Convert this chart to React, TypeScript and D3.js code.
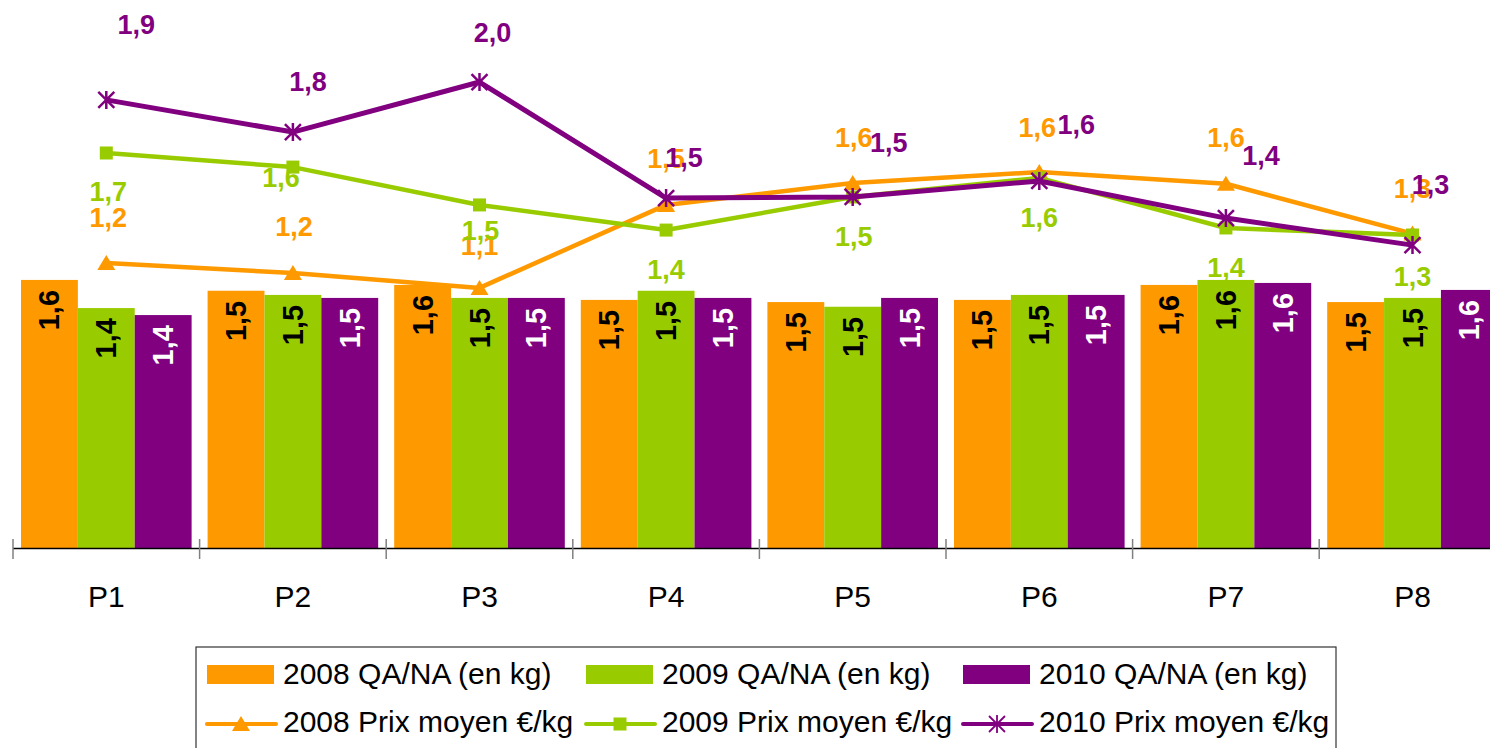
import React from 'react';
import * as d3 from 'd3';

const categories = ['P1', 'P2', 'P3', 'P4', 'P5', 'P6', 'P7', 'P8'];
const qa2008 = [1.613, 1.548, 1.583, 1.493, 1.48, 1.493, 1.583, 1.48];
const qa2009 = [1.444, 1.523, 1.505, 1.548, 1.452, 1.523, 1.613, 1.505];
const qa2010 = [1.402, 1.505, 1.505, 1.505, 1.505, 1.523, 1.595, 1.553];
const prix2008 = [1.215, 1.172, 1.109, 1.462, 1.555, 1.602, 1.552, 1.34];
const prix2009 = [1.683, 1.623, 1.462, 1.355, 1.496, 1.577, 1.364, 1.334];
const prix2010 = [1.909, 1.772, 1.985, 1.491, 1.496, 1.564, 1.406, 1.291];
const barNames = ['2008 QA/NA (en kg)', '2009 QA/NA (en kg)', '2010 QA/NA (en kg)'];
const lineNames = ['2008 Prix moyen €/kg', '2009 Prix moyen €/kg', '2010 Prix moyen €/kg'];

// layout (label offsets relative to points)
const labelOffsets = [
  [[2, -45], [1, -46], [0, -42], [0, -46], [1, -45], [-2, -44], [0, -46], [0, -45]],
  [[2, 39], [-12, 11], [1, 26], [0, 40], [1, 40], [0, 40], [0, 40], [0, 42]],
  [[30, -75], [15, -50], [13, -49], [18, -40], [36, -54], [37, -56], [35, -62], [18, -60]],
];
const colors = ['#FF9900', '#99CC00', '#800080'];
const barLabelColors = ['#000', '#000', '#fff'];
const FONT = '"Liberation Sans", Arial, sans-serif';

const W = 1490, H = 748;
const baseY = 548.5;
const left = 13, step = 186.6;

const fmt = (v: number) => v.toFixed(1).replace('.', ',');

function Marker({ kind, x, y, color, thin }: { kind: number; x: number; y: number; color: string; thin?: boolean }) {
  if (kind === 0) {
    const s = 8;
    return <path d={`M${x},${y - s} L${x + s + 1},${y + s - 1} L${x - s - 1},${y + s - 1} Z`} fill={color} />;
  }
  if (kind === 1) {
    return <rect x={x - 6.5} y={y - 6.5} width={13} height={13} fill={color} />;
  }
  const r = 8;
  return (
    <path
      d={`M${x - r},${y - r} L${x + r},${y + r} M${x - r},${y + r} L${x + r},${y - r} M${x},${y - r - 1} L${x},${y + r + 1}`}
      stroke={color}
      strokeWidth={thin ? 1.8 : 2.5}
      fill="none"
    />
  );
}

export default function App() {
  const x0 = d3.scaleBand<string>().domain(categories).range([left, left + step * categories.length]).padding(0);
  const x1 = d3.scaleBand<string>().domain(['a', 'b', 'c']).range([8, x0.bandwidth() - 8]).padding(0);
  const yBar = d3.scaleLinear().domain([0, 3]).range([baseY, baseY - 3 * 166.5]);
  const yLine = d3.scaleLinear().domain([0, 2.4]).range([baseY, baseY - 2.4 * 235]);

  const barSeries = [qa2008, qa2009, qa2010];
  const lineSeries = [prix2008, prix2009, prix2010];
  const cx = (c: string) => (x0(c) as number) + x0.bandwidth() / 2;
  const lineGen = d3
    .line<number>()
    .x((_, i) => cx(categories[i]))
    .y((d) => yLine(d));

  const legendX = [207, 586, 963];

  return (
    <svg width={W} height={H} style={{ position: 'absolute', left: 0, top: 0, background: '#fff' }} fontFamily={FONT}>
      <rect x={0} y={0} width={W} height={H} fill="#fff" />
      {/* bars */}
      {barSeries.map((s, si) =>
        s.map((v, i) => {
          const bx = (x0(categories[i]) as number) + (x1(['a', 'b', 'c'][si]) as number);
          const by = yBar(v);
          return (
            <g key={`b${si}-${i}`}>
              <rect x={bx} y={by} width={x1.bandwidth()} height={baseY - by} fill={colors[si]} />
              <text
                transform={`translate(${bx + x1.bandwidth() / 2},${by + 10}) rotate(-90)`}
                textAnchor="end"
                dominantBaseline="central"
                fontSize={29}
                fontWeight="bold"
                fill={barLabelColors[si]}
              >
                {fmt(v)}
              </text>
            </g>
          );
        })
      )}
      {/* axis */}
      <line x1={left} x2={left + step * 8} y1={baseY} y2={baseY} stroke="#000" strokeWidth={1.5} />
      {d3.range(categories.length + 1).map((i) => (
        <line key={`t${i}`} x1={left + step * i} x2={left + step * i} y1={539} y2={559} stroke="#808080" strokeWidth={1.5} />
      ))}
      {categories.map((c) => (
        <text key={c} x={cx(c)} y={607} textAnchor="middle" fontSize={30} fill="#000">
          {c}
        </text>
      ))}
      {/* lines */}
      {lineSeries.map((s, si) => (
        <g key={`l${si}`}>
          <path d={lineGen(s) as string} fill="none" stroke={colors[si]} strokeWidth={si === 2 ? 5 : 4.5} strokeLinejoin="round" />
          {s.map((v, i) => (
            <Marker key={i} kind={si} x={cx(categories[i])} y={yLine(v)} color={colors[si]} />
          ))}
        </g>
      ))}
      {/* line labels */}
      {lineSeries.map((s, si) =>
        s.map((v, i) => (
          <text
            key={`ll${si}-${i}`}
            x={cx(categories[i]) + labelOffsets[si][i][0]}
            y={yLine(v) + labelOffsets[si][i][1]}
            textAnchor="middle"
            dominantBaseline="central"
            fontSize={27}
            fontWeight="bold"
            fill={colors[si]}
          >
            {fmt(v)}
          </text>
        ))
      )}
      {/* legend */}
      <rect x={196} y={647} width={1140} height={130} fill="#fff" stroke="#333" strokeWidth={1.2} />
      {barNames.map((n, i) => (
        <g key={`lg${i}`}>
          <rect x={legendX[i]} y={665} width={67} height={19} fill={colors[i]} />
          <text x={legendX[i] + 76} y={684} fontSize={30} fill="#000">
            {n}
          </text>
        </g>
      ))}
      {lineNames.map((n, i) => (
        <g key={`lgl${i}`}>
          <line x1={legendX[i]} x2={legendX[i] + 69} y1={724} y2={724} stroke={colors[i]} strokeWidth={4} strokeLinecap="round" />
          <Marker kind={i} x={legendX[i] + 34} y={724} color={colors[i]} thin />
          <text x={legendX[i] + 76} y={732} fontSize={30} fill="#000">
            {n}
          </text>
        </g>
      ))}
    </svg>
  );
}
